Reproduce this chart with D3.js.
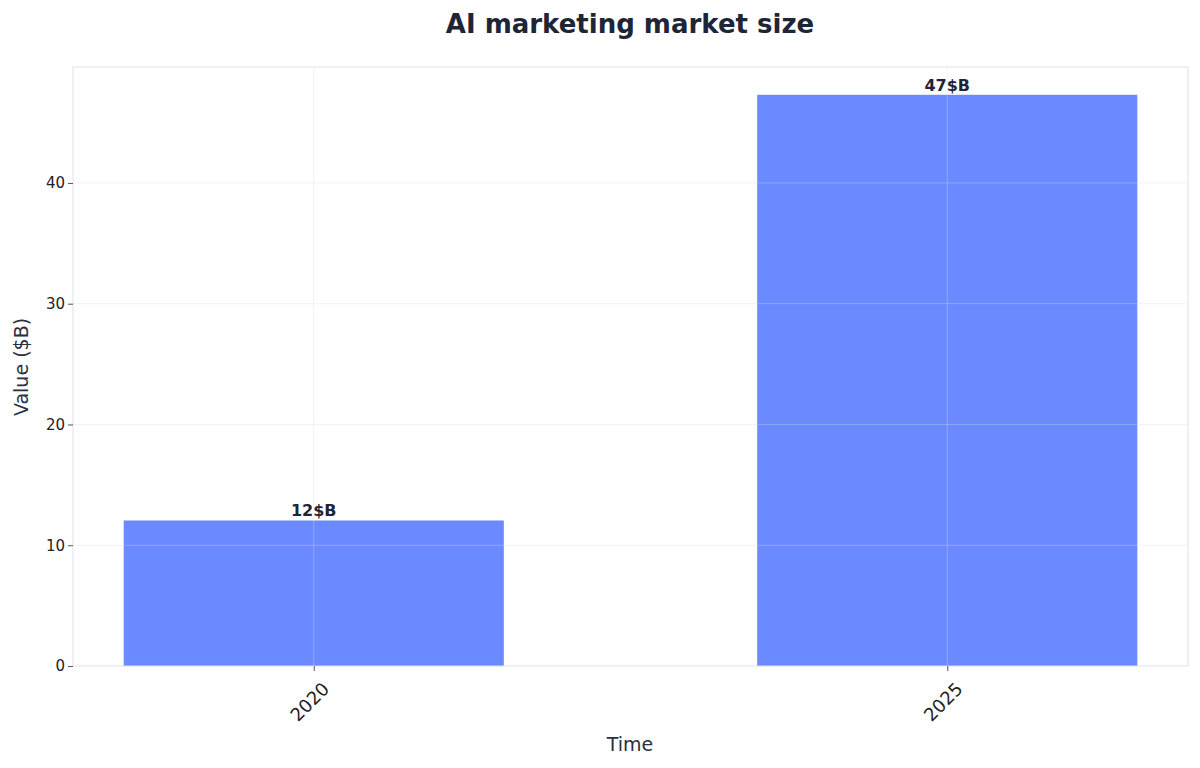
<!DOCTYPE html>
<html><head><meta charset="utf-8">
<script src="https://cdn.jsdelivr.net/npm/d3@7"></script>
<style>body{margin:0;background:#fff;font-family:"DejaVu Sans",sans-serif}</style>
</head><body><svg id="chart" width="1200" height="768"></svg>
<script>
var years = ["2020", "2025"];
var values = [12.05, 47.3];
var labels = ["12$B", "47$B"];
var yTicks = [0, 10, 20, 30, 40];

var svg = d3.select("#chart");
var m = {left: 73, right: 1188, top: 67, bottom: 666};

var x = d3.scaleLinear().domain([-0.38, 1.38]).range([m.left, m.right]);
var y = d3.scaleLinear().domain([0, 49.6]).range([m.bottom, m.top]);

// bars
svg.selectAll("rect.bar").data(values).enter().append("rect")
  .attr("x", (d, i) => x(i - 0.3))
  .attr("width", x(0.6) - x(0))
  .attr("y", d => y(d))
  .attr("height", d => y(0) - y(d))
  .attr("fill", "#6b8aff");

// grid over bars
svg.selectAll("line.gy").data(yTicks.slice(1)).enter().append("line")
  .attr("x1", m.left).attr("x2", m.right)
  .attr("y1", d => y(d)).attr("y2", d => y(d))
  .attr("stroke", "#d8dde6").attr("stroke-opacity", 0.35);
svg.selectAll("line.gx").data(years).enter().append("line")
  .attr("x1", (d, i) => x(i)).attr("x2", (d, i) => x(i))
  .attr("y1", m.top).attr("y2", m.bottom)
  .attr("stroke", "#d8dde6").attr("stroke-opacity", 0.35);

// frame
svg.append("rect").attr("x", m.left).attr("y", m.top)
  .attr("width", m.right - m.left).attr("height", m.bottom - m.top)
  .attr("fill", "none").attr("stroke", "#dde1e7");

// y axis
var ya = svg.append("g").attr("transform", "translate(" + m.left + ",0)")
  .call(d3.axisLeft(y).tickValues(yTicks).tickSize(5));
ya.select(".domain").remove();
ya.selectAll("line").attr("stroke", "#555");
ya.selectAll("text").attr("font-size", 15).attr("fill", "#222").attr("font-family", "DejaVu Sans");

// x axis
var xa = svg.append("g").attr("transform", "translate(0," + m.bottom + ")")
  .call(d3.axisBottom(x).tickValues([0, 1]).tickFormat(i => years[i]).tickSize(5));
xa.select(".domain").remove();
xa.selectAll("line").attr("stroke", "#555");
xa.selectAll("text").attr("font-size", 18).attr("fill", "#222").attr("font-family", "DejaVu Sans")
  .attr("text-anchor", "end").attr("dy", "0.35em")
  .attr("transform", "translate(6,14) rotate(-45)");

// value labels
svg.selectAll("text.val").data(values).enter().append("text")
  .attr("x", (d, i) => x(i)).attr("y", d => y(d) - 4)
  .attr("text-anchor", "middle").attr("font-size", 16).attr("font-weight", "bold")
  .attr("fill", "#1e2536").text((d, i) => labels[i]);

svg.append("text").attr("x", 630).attr("y", 33).attr("text-anchor", "middle")
  .attr("font-size", 26).attr("font-weight", "bold").attr("fill", "#1e2536")
  .text("AI marketing market size");
svg.append("text").attr("x", 630).attr("y", 751).attr("text-anchor", "middle")
  .attr("font-size", 19).attr("fill", "#2a3042").text("Time");
svg.append("text").attr("transform", "translate(28,367) rotate(-90)").attr("text-anchor", "middle")
  .attr("font-size", 19).attr("fill", "#2a3042").text("Value ($B)");
</script></body></html>
